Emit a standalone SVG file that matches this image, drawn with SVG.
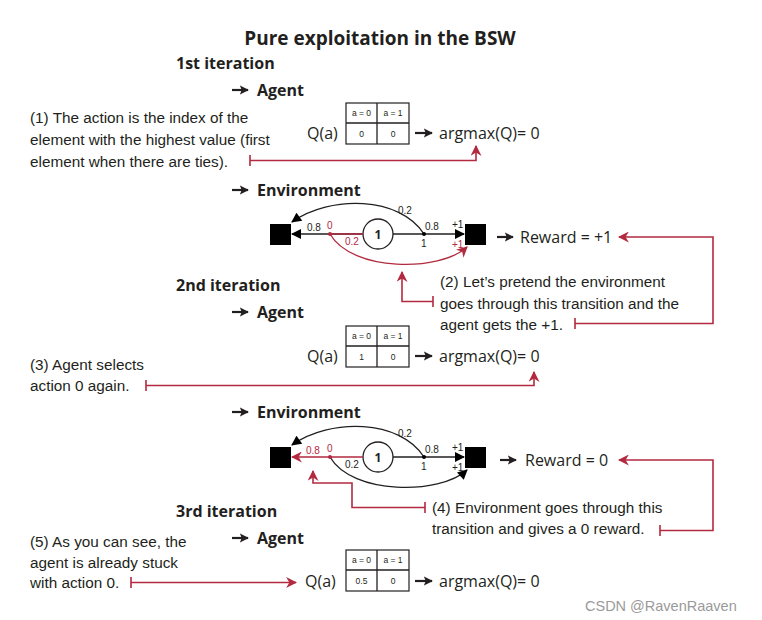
<svg xmlns="http://www.w3.org/2000/svg" width="762" height="620" viewBox="0 0 762 620">
<defs>
<style>
.h{font-family:"Open Sans","Liberation Sans",sans-serif;font-weight:700;fill:#231f20}
.t{font-family:"Open Sans","Liberation Sans",sans-serif;fill:#231f20;font-size:16px}
.s{font-family:"Liberation Sans",Arial,sans-serif;fill:#231f20;font-size:8.5px}
.n{font-family:"Liberation Sans",Arial,sans-serif;fill:#231f20;font-size:10px}
.nr{font-family:"Liberation Sans",Arial,sans-serif;fill:#b22a3f;font-size:10px}
.hw{font-family:"Liberation Sans","DejaVu Sans",sans-serif;fill:#231f20;font-size:15.3px}
.red{stroke:#b22a3f;stroke-width:1.6;fill:none}
.blk{stroke:#231f20;stroke-width:1.3;fill:none}
.ga{stroke:#231f20;stroke-width:2.2;fill:none}
.grid{stroke:#231f20;stroke-width:1.2;fill:#fff}
.sq{fill:#000}
</style>
<marker id="ab" viewBox="0 0 10 10" refX="9" refY="5" markerWidth="11" markerHeight="10" markerUnits="userSpaceOnUse" orient="auto"><path d="M0,0 L10,5 L0,10 Z" fill="#000"/></marker>
<marker id="ar" viewBox="0 0 10 10" refX="9" refY="5" markerWidth="11" markerHeight="11" markerUnits="userSpaceOnUse" orient="auto"><path d="M0,0 L10,5 L0,10 L3,5 Z" fill="#b22a3f"/></marker>
<marker id="ak" viewBox="0 0 10 10" refX="9" refY="5" markerWidth="9" markerHeight="11" markerUnits="userSpaceOnUse" orient="auto"><path d="M0,0 L10,5 L0,10 L2,5 Z" fill="#231f20"/></marker>
</defs>
<rect width="762" height="620" fill="#fff"/>

<g id="title"><text class="h" x="380" y="45" font-size="19" text-anchor="middle">Pure exploitation in the BSW</text></g>

<g id="iter1"><text class="h" x="176" y="69" font-size="16">1st iteration</text></g>
<g id="agent1"><line class="ga" x1="232" y1="90" x2="248" y2="90" marker-end="url(#ak)"/><text class="h" x="257" y="96" font-size="16">Agent</text></g>
<g id="q1">
<text class="t" x="307" y="139">Q(a)</text>
<rect class="grid" x="346" y="103" width="63" height="41"/>
<line class="blk" x1="346" y1="123" x2="409" y2="123"/><line class="blk" x1="377" y1="103" x2="377" y2="144"/>
<text class="s" x="361.5" y="116" text-anchor="middle">a = 0</text><text class="s" x="393" y="116" text-anchor="middle">a = 1</text>
<text class="s" x="361.5" y="137" text-anchor="middle">0</text><text class="s" x="393" y="137" text-anchor="middle">0</text>
<line class="ga" x1="415" y1="133" x2="432" y2="133" marker-end="url(#ak)"/>
<text class="t" x="439" y="139">argmax(Q)= 0</text>
</g>
<g id="note1">
<text class="hw" x="30" y="123">(1) The action is the index of the</text>
<text class="hw" x="30" y="145">element with the highest value (first</text>
<text class="hw" x="30" y="167">element when there are ties).</text>
</g>

<g id="env1h"><line class="ga" x1="232" y1="190" x2="248" y2="190" marker-end="url(#ak)"/><text class="h" x="257" y="196" font-size="16">Environment</text></g>
<g id="env1">
<rect class="sq" x="270" y="224" width="21" height="21"/>
<rect class="sq" x="465" y="224" width="21" height="21"/>
<circle cx="378" cy="234" r="15" fill="#fff" stroke="#231f20" stroke-width="1.3"/>
<text class="h" x="378" y="239" font-size="12" text-anchor="middle">1</text>
<line class="blk" x1="363" y1="234" x2="292" y2="234" marker-end="url(#ab)"/>
<line class="blk" x1="393" y1="234" x2="464" y2="234" marker-end="url(#ab)"/>
<path class="blk" d="M424,234 C400,196 330,195 292,222" marker-end="url(#ab)"/>
<path d="M330,234 C352,272 440,272 467,247" stroke="#b22a3f" stroke-width="1.3" fill="none" marker-end="url(#ar)"/>
<line x1="330" y1="234" x2="363" y2="234" stroke="#b22a3f" stroke-width="1.3"/>
<circle cx="330" cy="234" r="2" fill="#b22a3f"/>
<circle cx="424" cy="234" r="2" fill="#000"/>
<text class="n" x="307" y="231">0.8</text>
<text class="nr" x="327" y="229">0</text>
<text class="nr" x="345" y="245">0.2</text>
<text class="n" x="398" y="214">0.2</text>
<text class="n" x="425" y="230">0.8</text>
<text class="n" x="421" y="247">1</text>
<text class="n" x="452" y="228">+1</text>
<text class="nr" x="452" y="248">+1</text>
<line class="ga" x1="497" y1="237" x2="513" y2="237" marker-end="url(#ak)"/>
<text class="t" x="520" y="243">Reward = +1</text>
</g>
<g id="note2">
<text class="hw" x="440" y="287">(2) Let’s pretend the environment</text>
<text class="hw" x="440" y="309">goes through this transition and the</text>
<text class="hw" x="440" y="330">agent gets the +1.</text>
</g>

<g id="iter2"><text class="h" x="176" y="291" font-size="16">2nd iteration</text></g>
<g id="agent2"><line class="ga" x1="232" y1="312" x2="248" y2="312" marker-end="url(#ak)"/><text class="h" x="257" y="318" font-size="16">Agent</text></g>
<g id="q2">
<text class="t" x="307" y="362">Q(a)</text>
<rect class="grid" x="346" y="326" width="63" height="41"/>
<line class="blk" x1="346" y1="346" x2="409" y2="346"/><line class="blk" x1="377" y1="326" x2="377" y2="367"/>
<text class="s" x="361.5" y="339" text-anchor="middle">a = 0</text><text class="s" x="393" y="339" text-anchor="middle">a = 1</text>
<text class="s" x="361.5" y="360" text-anchor="middle">1</text><text class="s" x="393" y="360" text-anchor="middle">0</text>
<line class="ga" x1="415" y1="356" x2="432" y2="356" marker-end="url(#ak)"/>
<text class="t" x="439" y="362">argmax(Q)= 0</text>
</g>
<g id="note3">
<text class="hw" x="30" y="370">(3) Agent selects</text>
<text class="hw" x="30" y="391">action 0 again.</text>
</g>

<g id="env2h"><line class="ga" x1="232" y1="412" x2="248" y2="412" marker-end="url(#ak)"/><text class="h" x="257" y="418" font-size="16">Environment</text></g>
<g id="env2">
<rect class="sq" x="270" y="447" width="21" height="21"/>
<rect class="sq" x="465" y="447" width="21" height="21"/>
<circle cx="378" cy="457" r="15" fill="#fff" stroke="#231f20" stroke-width="1.3"/>
<text class="h" x="378" y="462" font-size="12" text-anchor="middle">1</text>
<line x1="363" y1="457" x2="292" y2="457" stroke="#b22a3f" stroke-width="1.3" marker-end="url(#ar)"/>
<line class="blk" x1="393" y1="457" x2="464" y2="457" marker-end="url(#ab)"/>
<path class="blk" d="M424,457 C400,419 330,418 292,445" marker-end="url(#ab)"/>
<path class="blk" d="M330,457 C352,495 440,495 467,470" marker-end="url(#ab)"/>
<circle cx="330" cy="457" r="2" fill="#b22a3f"/>
<circle cx="424" cy="457" r="2" fill="#000"/>
<text class="nr" x="306" y="454">0.8</text>
<text class="nr" x="327" y="452">0</text>
<text class="n" x="345" y="468">0.2</text>
<text class="n" x="398" y="437">0.2</text>
<text class="n" x="425" y="453">0.8</text>
<text class="n" x="421" y="470">1</text>
<text class="n" x="452" y="451">+1</text>
<text class="n" x="452" y="471">+1</text>
<line class="ga" x1="500" y1="460" x2="516" y2="460" marker-end="url(#ak)"/>
<text class="t" x="525" y="466">Reward = 0</text>
</g>
<g id="note4">
<text class="hw" x="432" y="513">(4) Environment goes through this</text>
<text class="hw" x="432" y="534">transition and gives a 0 reward.</text>
</g>

<g id="iter3"><text class="h" x="176" y="517" font-size="16">3rd iteration</text></g>
<g id="agent3"><line class="ga" x1="232" y1="538" x2="248" y2="538" marker-end="url(#ak)"/><text class="h" x="257" y="544" font-size="16">Agent</text></g>
<g id="q3">
<text class="t" x="305" y="587">Q(a)</text>
<rect class="grid" x="346" y="550" width="63" height="41"/>
<line class="blk" x1="346" y1="570" x2="409" y2="570"/><line class="blk" x1="377" y1="550" x2="377" y2="591"/>
<text class="s" x="361.5" y="584" text-anchor="middle">0.5</text><text class="s" x="393" y="584" text-anchor="middle">0</text>
<text class="s" x="361.5" y="563" text-anchor="middle">a = 0</text><text class="s" x="393" y="563" text-anchor="middle">a = 1</text>
<line class="ga" x1="415" y1="581" x2="432" y2="581" marker-end="url(#ak)"/>
<text class="t" x="439" y="587">argmax(Q)= 0</text>
</g>
<g id="note5">
<text class="hw" x="30" y="547">(5) As you can see, the</text>
<text class="hw" x="30" y="568">agent is already stuck</text>
<text class="hw" x="30" y="588">with action 0.</text>
</g>

<g id="connectors">
<path class="red" d="M250,155 V166 M250,160.5 H476 V146" marker-end="url(#ar)"/>
<path class="red" d="M575,318 V329 M575,323.5 H713 V237 H619" marker-end="url(#ar)"/>
<path class="red" d="M433,296 V307 M433,301.5 H402 V272" marker-end="url(#ar)"/>
<path class="red" d="M146,380 V391 M146,385.5 H534 V372" marker-end="url(#ar)"/>
<path class="red" d="M425,502 V513 M425,507.5 H352 V483 H313 V471" marker-end="url(#ar)"/>
<path class="red" d="M660,525 V536 M660,530.5 H713 V460 H619" marker-end="url(#ar)"/>
<path class="red" d="M131,577 V588 M131,582.5 H296" marker-end="url(#ar)"/>
</g>

<g id="watermark"><text x="585" y="611" font-family="Liberation Sans,Arial,sans-serif" font-size="14.5" fill="#9a9a9a">CSDN @RavenRaaven</text></g>
</svg>
